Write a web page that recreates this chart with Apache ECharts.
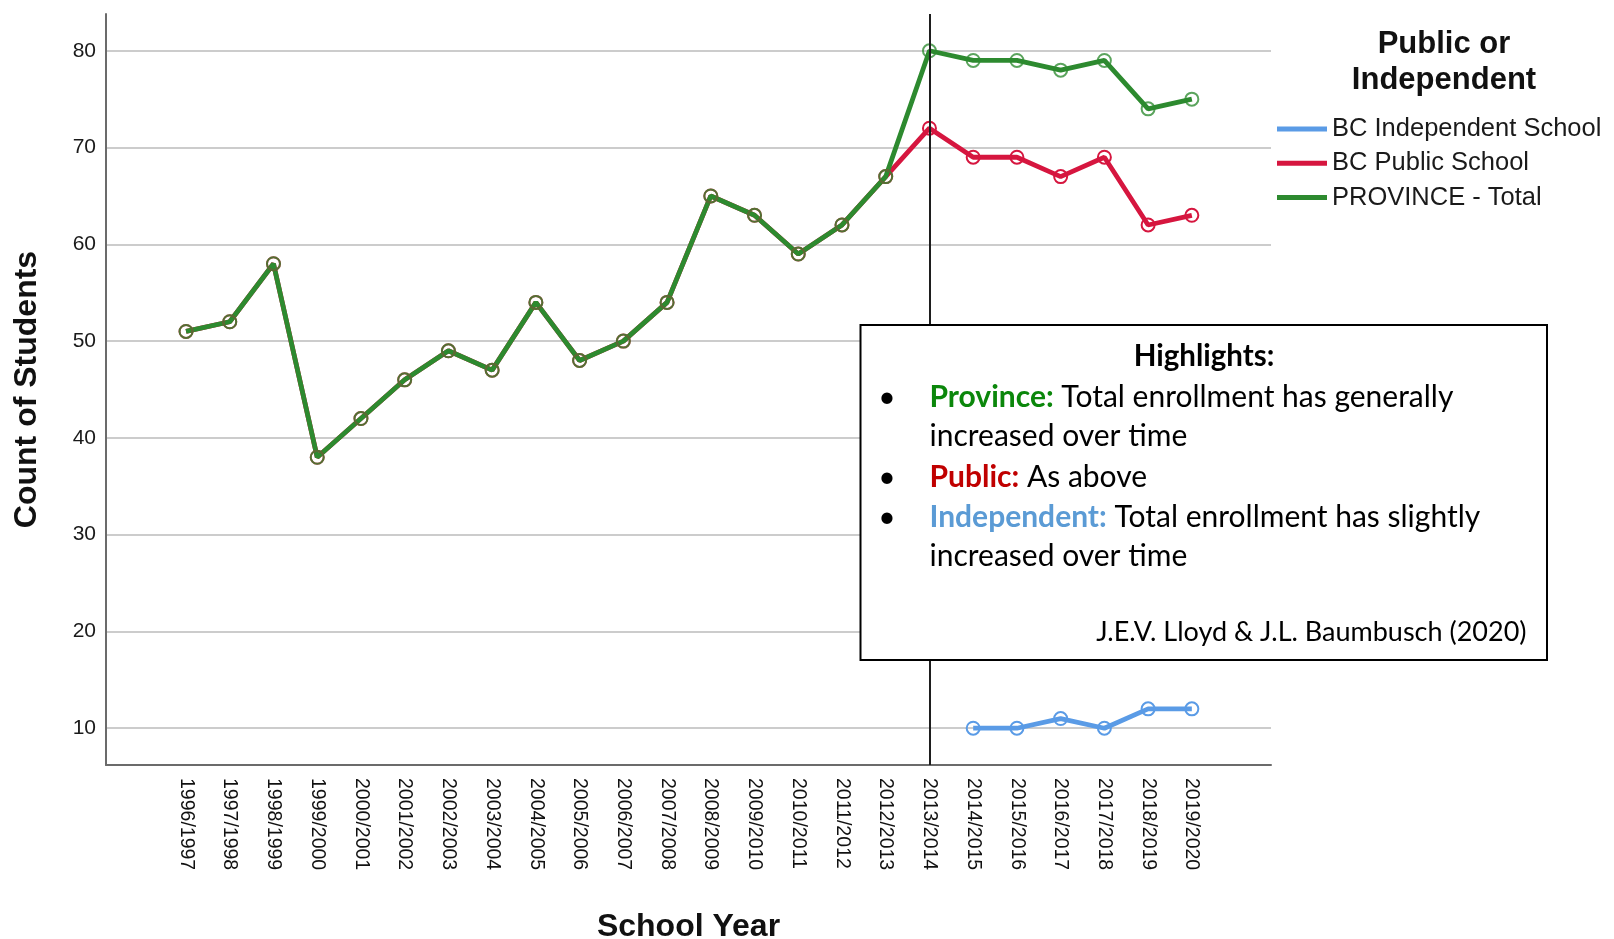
<!DOCTYPE html>
<html>
<head>
<meta charset="utf-8">
<script src="https://cdn.jsdelivr.net/npm/echarts@6/dist/echarts.min.js"></script>
<style>
  html, body { margin: 0; padding: 0; background: #ffffff; }
  #chart { width: 1614px; height: 939px; }
</style>
</head>
<body>
<div id="chart"></div>
<script>
// School years on the horizontal axis
const schoolYears = [
  '1996/1997', '1997/1998', '1998/1999', '1999/2000', '2000/2001', '2001/2002',
  '2002/2003', '2003/2004', '2004/2005', '2005/2006', '2006/2007', '2007/2008',
  '2008/2009', '2009/2010', '2010/2011', '2011/2012', '2012/2013', '2013/2014',
  '2014/2015', '2015/2016', '2016/2017', '2017/2018', '2018/2019', '2019/2020'
];

// Count of students per school year
const provinceTotal = [51, 52, 58, 38, 42, 46, 49, 47, 54, 48, 50, 54, 65, 63, 59, 62, 67, 80, 79, 79, 78, 79, 74, 75];
const publicSchool  = [51, 52, 58, 38, 42, 46, 49, 47, 54, 48, 50, 54, 65, 63, 59, 62, 67, 72, 69, 69, 67, 69, 62, 63];
const independentSchool = [null, null, null, null, null, null, null, null, null, null, null, null,
  null, null, null, null, null, null, 10, 10, 11, 10, 12, 12];

// Value axis ticks
const countTicks = [10, 20, 30, 40, 50, 60, 70, 80];

// Year marked with a vertical reference line
const referenceYear = '2013/2014';

const COLORS = {
  independent: '#5a9be6',
  public: '#d6163f',
  total: '#2d8a2f'
};

const AXIS_FONT = '"Liberation Sans", Arial, sans-serif';
const NOTE_FONT = 'Lato, "Open Sans", sans-serif';
const NOTE_SIZE = 30;

const toPoints = (values) => values.map((v, i) => [i, v]);
const yearIndex = schoolYears.map((_, i) => i);

function lineSeries(name, values, color, markerColor, extra) {
  return Object.assign({
    name: name,
    type: 'line',
    data: toPoints(values),
    symbol: 'circle',
    symbolSize: 13,
    showSymbol: true,
    connectNulls: false,
    lineStyle: { color: color, width: 4.8 },
    itemStyle: { color: 'rgba(0,0,0,0)', borderColor: markerColor, borderWidth: 2 },
    emphasis: { disabled: true },
    animation: false
  }, extra || {});
}

const chart = echarts.init(document.getElementById('chart'), null, { renderer: 'canvas' });

const noteLeft = 929.5;
const noteStyle = { fontFamily: NOTE_FONT, fontSize: NOTE_SIZE, fill: '#000' };

function noteLine(y, text, rich) {
  return {
    type: 'text', x: noteLeft, y: y, z: 101,
    style: Object.assign({}, noteStyle, {
      text: text, align: 'left', verticalAlign: 'middle', rich: rich || {}
    })
  };
}
function bullet(y) {
  return {
    type: 'text', x: 887, y: y, z: 101,
    style: Object.assign({}, noteStyle, { text: '\u2022', align: 'center', verticalAlign: 'middle' })
  };
}
const boldRich = (color) => ({ fontFamily: NOTE_FONT, fontSize: NOTE_SIZE, fontWeight: 'bold', fill: color, color: color });

chart.setOption({
  backgroundColor: '#ffffff',
  animation: false,
  grid: { left: 106, right: 343, top: 14, bottom: 174, containLabel: false, outerBoundsMode: 'none' },
  xAxis: {
    type: 'value',
    min: -1.83,
    max: 24.81,
    name: 'School Year',
    nameLocation: 'middle',
    nameGap: 146,
    nameTextStyle: { fontFamily: AXIS_FONT, fontSize: 32, fontWeight: 'bold', color: '#111' },
    axisLine: { show: true, onZero: false, lineStyle: { color: '#6b6b6b', width: 2 } },
    axisTick: { show: false, customValues: yearIndex },
    splitLine: { show: false },
    axisLabel: {
      customValues: yearIndex,
      rotate: -90,
      margin: 13,
      fontFamily: AXIS_FONT,
      fontSize: 19.5,
      color: '#111',
      formatter: (v) => schoolYears[Math.round(v)] || ''
    }
  },
  yAxis: {
    type: 'value',
    min: 6.2,
    max: 83.8,
    name: 'Count of Students',
    nameLocation: 'middle',
    nameRotate: 90,
    nameGap: 63,
    nameTextStyle: { fontFamily: AXIS_FONT, fontSize: 32, fontWeight: 'bold', color: '#111' },
    axisLine: { show: true, onZero: false, lineStyle: { color: '#6b6b6b', width: 2 } },
    axisTick: { show: false, customValues: countTicks },
    splitLine: { show: true, lineStyle: { color: '#cccccc', width: 2 } },
    axisLabel: {
      customValues: countTicks,
      margin: 10,
      fontFamily: AXIS_FONT,
      fontSize: 21,
      color: '#1a1a1a'
    }
  },
  legend: {
    orient: 'vertical',
    left: 1277,
    top: 116,
    padding: 0,
    itemWidth: 50,
    itemHeight: 5,
    itemGap: 8.3,
    icon: 'rect',
    selectedMode: false,
    textStyle: { fontFamily: AXIS_FONT, fontSize: 25.5, color: '#1a1a1a', lineHeight: 26 },
    data: [
      { name: 'BC Independent School', itemStyle: { color: COLORS.independent, borderWidth: 0 } },
      { name: 'BC Public School', itemStyle: { color: COLORS.public, borderWidth: 0 } },
      { name: 'PROVINCE - Total', itemStyle: { color: COLORS.total, borderWidth: 0 } }
    ]
  },
  series: [
    lineSeries('BC Independent School', independentSchool, COLORS.independent, COLORS.independent),
    lineSeries('BC Public School', publicSchool, COLORS.public, COLORS.public),
    lineSeries('PROVINCE - Total', provinceTotal, COLORS.total, 'rgba(45,138,47,0.78)', {
      markLine: {
        silent: true,
        symbol: ['none', 'none'],
        label: { show: false },
        lineStyle: { color: '#1e1e1e', width: 2, type: 'solid' },
        emphasis: { disabled: true },
        data: [{ xAxis: schoolYears.indexOf(referenceYear) }]
      }
    })
  ],
  graphic: [
    {
      type: 'text', x: 1444, y: 26, z: 100,
      style: {
        text: 'Public or\nIndependent',
        fontFamily: AXIS_FONT, fontSize: 31, fontWeight: 'bold', lineHeight: 36,
        fill: '#111', align: 'center', verticalAlign: 'top'
      }
    },
    {
      type: 'rect', z: 100,
      shape: { x: 860.5, y: 325, width: 686.5, height: 335 },
      style: { fill: '#ffffff', stroke: '#000000', lineWidth: 2 }
    },
    {
      type: 'text', x: 1204, y: 356.4, z: 101,
      style: Object.assign({}, noteStyle, {
        text: 'Highlights:', fontSize: 29.5, fontWeight: 'bold', align: 'center', verticalAlign: 'middle'
      })
    },
    bullet(397.6),
    noteLine(397.6, '{g|Province:} Total enrollment has generally', { g: boldRich('#0b870b') }),
    noteLine(436.7, 'increased over time'),
    bullet(476.9),
    noteLine(476.9, '{r|Public:} As above', { r: boldRich('#c00000') }),
    bullet(517),
    noteLine(517, '{b|Independent:} Total enrollment has slightly', { b: boldRich('#5b9bd5') }),
    noteLine(556, 'increased over time'),
    {
      type: 'text', x: 1526.5, y: 632, z: 101,
      style: Object.assign({}, noteStyle, {
        text: 'J.E.V. Lloyd & J.L. Baumbusch (2020)', fontSize: 27, align: 'right', verticalAlign: 'middle'
      })
    }
  ]
});
</script>
</body>
</html>
